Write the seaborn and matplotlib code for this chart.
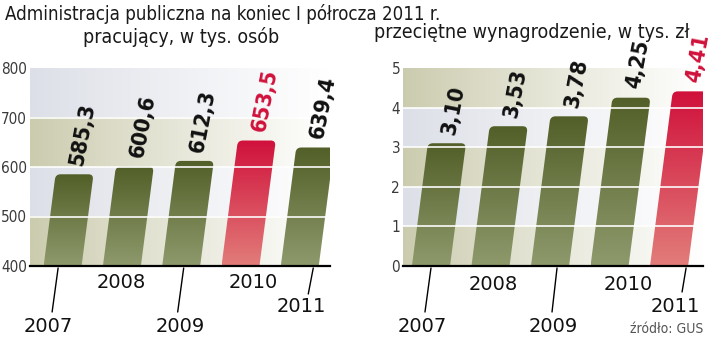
import numpy as np
import pandas as pd
import matplotlib
matplotlib.use("Agg")
import matplotlib.pyplot as plt
import seaborn as sns
from matplotlib.path import Path
from matplotlib.patches import PathPatch
from matplotlib.lines import Line2D
from matplotlib.colors import LinearSegmentedColormap, to_rgb

# ---------------- data ----------------
years = ["2007", "2008", "2009", "2010", "2011"]
employed = [585.3, 600.6, 612.3, 653.5, 639.4]
employed_labels = ["585,3", "600,6", "612,3", "653,5", "639,4"]
employed_highlight = "2010"
employed_ticks = [400, 500, 600, 700, 800]

salary = [3.10, 3.53, 3.78, 4.25, 4.41]
salary_labels = ["3,10", "3,53", "3,78", "4,25", "4,41"]
salary_highlight = "2011"
salary_ticks = [0, 1, 2, 3, 4, 5]

title = "Administracja publiczna na koniec I półrocza 2011 r."
sub_left = "pracujący, w tys. osób"
sub_right = "przeciętne wynagrodzenie, w tys. zł"
source = "źródło: GUS"

# ---------------- style ----------------
sns.set_theme(style="white")
plt.rcParams['font.family'] = ['DejaVu Sans']

GREEN_TOP, GREEN_BOT = "#535f28", "#8e9a6c"
RED_TOP, RED_BOT = "#d0113b", "#e27d7a"
BEIGE, GREYBLUE = "#cbcbae", "#dcdfe7"
SLANT = 0.13          # horizontal px per vertical px
RADIUS = 5            # px

W, H = 720, 340
fig = plt.figure(figsize=(W / 100, H / 100), dpi=100)
fig.patch.set_facecolor("white")


def px_axes(x0, y_top, w, h):
    return fig.add_axes([x0 / W, 1 - (y_top + h) / H, w / W, h / H])


axL = px_axes(30, 68, 300, 198)
axR = px_axes(403, 68, 300, 198)

# label layout (offset below axis in px, x offset px, tick line)
layoutL = {"2007": (60, -14, (-4.5, -10.5, 44)), "2008": (17, -1, None),
           "2009": (60, -1, (2.5, -3.5, 44)), "2010": (17, 13, None),
           "2011": (41, 2, (13.5, 8.5, 26))}
layoutR = {"2007": (60, -9, (0, -6, 44)), "2008": (19, 3, None),
           "2009": (60, 3, (7, 2, 44)), "2010": (19, 19, None),
           "2011": (41, 6, (17, 13, 24))}


def band_image(ax, y0, y1, color, xlim):
    c0 = np.array(to_rgb(color))
    t = np.linspace(0, 1, 256)
    t = t ** 0.9
    img = c0[None, :] * (1 - t[:, None]) + np.ones(3)[None, :] * t[:, None]
    img = np.clip(img, 0, 1)[None, :, :]
    ax.imshow(img, extent=(xlim[0], xlim[1], y0, y1), aspect="auto",
              zorder=0, interpolation="bilinear")


def panel(ax, values, labels, highlight, ticks, xlim, layout):
    df = pd.DataFrame({"year": years, "value": values})
    df["kind"] = np.where(df["year"] == highlight, "hi", "base")
    sns.barplot(data=df, x="year", y="value", hue="kind",
                palette={"hi": RED_TOP, "base": GREEN_TOP},
                dodge=False, legend=False, ax=ax, width=0.64)
    ylim = (ticks[0], ticks[-1])
    ax.set_xlim(*xlim)
    ax.set_ylim(*ylim)
    ax.set_xlabel("")
    ax.set_ylabel("")
    ax.set_xticks([])
    ax.set_yticks(ticks)
    ax.set_yticklabels([str(t) for t in ticks])
    ax.tick_params(axis="y", length=0, pad=2, labelsize=11, labelcolor="#3a3a3a")
    for tl in ax.get_yticklabels():
        tl.set_fontstretch("condensed")
    for s in ["left", "right", "top"]:
        ax.spines[s].set_visible(False)
    ax.spines["bottom"].set_color("black")
    ax.spines["bottom"].set_linewidth(1.6)
    ax.spines["bottom"].set_zorder(6)
    ax.set_facecolor("white")

    # background bands
    for i in range(len(ticks) - 1):
        col = BEIGE if i % 2 == 0 else GREYBLUE
        band_image(ax, ticks[i], ticks[i + 1], col, xlim)
    ax.set_xlim(*xlim)
    ax.set_ylim(*ylim)

    # grid lines
    for t in ticks[1:-1]:
        ax.axhline(t, color="white", lw=1.3, alpha=0.9, zorder=4)

    inv = ax.transData.inverted()
    patches = [p for p in ax.patches if p.get_height() > 0]
    for p in patches:
        p.set_visible(False)
        xc = p.get_x() + p.get_width() / 2
        idx = int(round(xc))
        is_hi = years[idx] == highlight
        x0, x1 = p.get_x(), p.get_x() + p.get_width()
        bot = max(p.get_y(), ylim[0])
        top = p.get_y() + p.get_height()
        (dx0, dyb), (dx1, dyt) = ax.transData.transform([(x0, bot), (x1, top)])
        s = SLANT * (dyt - dyb)
        r = RADIUS
        verts = [(dx0, dyb), (dx1, dyb), (dx1 + s - SLANT * r, dyt - r),
                 (dx1 + s, dyt), (dx1 + s - r, dyt),
                 (dx0 + s + r, dyt), (dx0 + s, dyt), (dx0 + s - SLANT * r, dyt - r),
                 (dx0, dyb)]
        codes = [Path.MOVETO, Path.LINETO, Path.LINETO, Path.CURVE3, Path.CURVE3,
                 Path.LINETO, Path.CURVE3, Path.CURVE3, Path.CLOSEPOLY]
        dverts = inv.transform(verts)
        path = Path(dverts, codes)
        patch = PathPatch(path, facecolor="none", edgecolor="none", zorder=2)
        patch.set_clip_on(False)
        ax.add_patch(patch)
        c_top, c_bot = (RED_TOP, RED_BOT) if is_hi else (GREEN_TOP, GREEN_BOT)
        cmap = LinearSegmentedColormap.from_list("g", [c_bot, c_top])
        grad = np.linspace(0, 1, 256)[:, None]
        xmin, xmax = dverts[:, 0].min(), dverts[:, 0].max()
        im = ax.imshow(grad, extent=(xmin, xmax, bot, top), origin="lower",
                       cmap=cmap, aspect="auto", zorder=2, interpolation="bilinear")
        im.set_clip_path(patch)
        ax.set_xlim(*xlim)
        ax.set_ylim(*ylim)

        # value label
        tx, ty = inv.transform(((dx0 + dx1) / 2 + s, dyt))
        ax.annotate(labels[idx], xy=(tx, ty), xytext=(2, 9), textcoords="offset pixels",
                    rotation=79, rotation_mode="anchor", ha="left", va="center",
                    fontsize=16, fontweight="bold", fontstretch="condensed",
                    color=RED_TOP if is_hi else "#111111", annotation_clip=False,
                    zorder=7)

    # year labels + tick lines
    for i, y in enumerate(years):
        down, xoff, tick = layout[y]
        bx, by = ax.transData.transform((i, ylim[0]))
        ax.annotate(y, xy=(i, ylim[0]), xytext=(xoff, -down), textcoords="offset pixels",
                    ha="center", va="center", fontsize=14, color="#111111",
                    annotation_clip=False)
        if tick is not None:
            a, b, ln = tick
            fig.add_artist(Line2D([(bx + a) / W, (bx + b) / W],
                                  [(by - 2) / H, (by - 2 - ln) / H],
                                  transform=fig.transFigure, color="black", lw=1.0))


panel(axL, employed, employed_labels, employed_highlight, employed_ticks,
      (-0.55, 4.51), layoutL)
panel(axR, salary, salary_labels, salary_highlight, salary_ticks,
      (-0.47, 4.57), layoutR)

fig.text(5 / W, 1 - 20 / H, title, ha="left", va="baseline", fontsize=13.4,
         fontstretch="condensed", color="#1a1a1a")
fig.text(181 / W, 1 - 43 / H, sub_left, ha="center", va="baseline", fontsize=14,
         fontstretch="condensed", color="#1a1a1a")
fig.text(532 / W, 1 - 38 / H, sub_right, ha="center", va="baseline", fontsize=14,
         fontstretch="condensed", color="#1a1a1a")
fig.text(703 / W, 1 - 333 / H, source, ha="right", va="baseline", fontsize=10,
         fontstretch="condensed", color="#555555")

fig.savefig("out.png", dpi=100)
